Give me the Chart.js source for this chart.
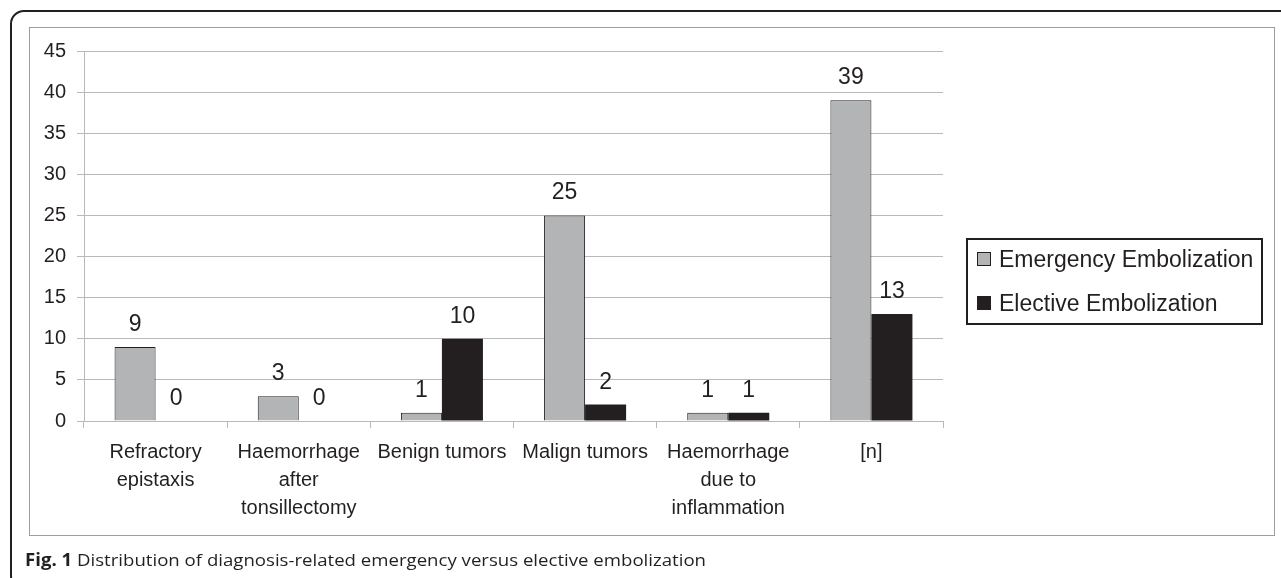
<!DOCTYPE html>
<html>
<head>
<meta charset="utf-8">
<script src="https://cdn.jsdelivr.net/npm/chart.js@4.4.1/dist/chart.umd.min.js"></script>
<style>
  html, body { margin: 0; padding: 0; background: #ffffff; overflow: hidden; }
  body { width: 1281px; height: 578px; position: relative; }
  #outer { position: absolute; left: 10px; top: 10px; width: 1320px; height: 580px;
           border: 2px solid #231f20; border-radius: 14px 0 0 14px; box-sizing: border-box; }
  #inner { position: absolute; left: 29px; top: 27px; width: 1246px; height: 509px;
           border: 1px solid #9d9d9d; box-sizing: border-box; }
  #wrap { position: absolute; left: 0; top: 0; width: 1281px; height: 578px; }
  #legend { position: absolute; left: 966px; top: 238px; width: 297px; height: 87px;
            border: 2px solid #231f20; box-sizing: border-box; padding-top: 6px;
            font-family: "Liberation Sans", Arial, sans-serif; font-size: 23px; color: #231f20; }
  .row { position: relative; height: 26px; line-height: 26px; margin-bottom: 18px; white-space: nowrap; }
  .sw { position: absolute; left: 9px; top: 6px; width: 14px; height: 14px; box-sizing: border-box; }
  .lt { position: absolute; left: 31px; top: 0; }
  #caption { position: absolute; left: 25px; top: 548px; white-space: nowrap;
             font-family: "Open Sans", "Noto Sans", sans-serif; font-size: 17px; color: #231f20;
             transform-origin: 0 0; }
  #caption b { font-weight: 700; }
</style>
</head>
<body>
<div id="outer"></div>
<div id="inner"></div>
<div id="wrap"><canvas id="c" width="1281" height="578"></canvas></div>
<div id="legend"></div>
<div id="caption"><b>Fig. 1</b> Distribution of diagnosis-related emergency versus elective embolization</div>
<script>
const categories = [
  ["Refractory", "epistaxis"],
  ["Haemorrhage", "after", "tonsillectomy"],
  "Benign tumors",
  "Malign tumors",
  ["Haemorrhage", "due to", "inflammation"],
  "[n]"
];
const seriesNames = ["Emergency Embolization", "Elective Embolization"];
const emergency = [9, 3, 1, 25, 1, 39];
const elective = [0, 0, 10, 2, 1, 13];
const yTicks = [0, 5, 10, 15, 20, 25, 30, 35, 40, 45];

const INK = "#231f20";
const GRAY = "#b3b4b6";
const GRID = "#b9b9b9";
const FONT = "'Liberation Sans', Arial, sans-serif";

const valueLabels = {
  id: "valueLabels",
  afterDatasetsDraw(chart) {
    const ctx = chart.ctx;
    ctx.save();
    ctx.font = "23px " + FONT;
    ctx.fillStyle = INK;
    ctx.textAlign = "center";
    ctx.textBaseline = "alphabetic";
    chart.data.datasets.forEach((ds, di) => {
      const meta = chart.getDatasetMeta(di);
      meta.data.forEach((el, i) => {
        ctx.fillText(String(ds.data[i]), el.x, el.y - 16);
      });
    });
    ctx.restore();
  }
};

const chart = new Chart(document.getElementById("c"), {
  type: "bar",
  data: {
    labels: categories,
    datasets: [
      { label: seriesNames[0], data: emergency, backgroundColor: GRAY, borderColor: INK, borderWidth: 1,
        categoryPercentage: 0.573, barPercentage: 1.0 },
      { label: seriesNames[1], data: elective, backgroundColor: INK, borderColor: INK, borderWidth: 0,
        categoryPercentage: 0.573, barPercentage: 1.0 }
    ]
  },
  options: {
    responsive: false,
    animation: false,
    devicePixelRatio: 1,
    layout: { padding: { left: 30, top: 51, right: 338, bottom: 0 } },
    plugins: { legend: { display: false }, tooltip: { enabled: false } },
    scales: {
      x: {
        offset: true,
        grid: { display: true, drawOnChartArea: false, drawTicks: true, tickLength: 7, color: GRID, offset: true },
        border: { display: true, color: GRID, width: 1 },
        ticks: { font: { family: FONT, size: 20, lineHeight: 1.4 }, color: INK, padding: 10,
                 maxRotation: 0, minRotation: 0, autoSkip: false },
        afterFit(scale) { scale.height = 157; }
      },
      y: {
        min: 0, max: 45,
        afterBuildTicks(scale) { scale.ticks = yTicks.map(v => ({ value: v })); },
        grid: { color: GRID, tickLength: 7, drawTicks: true },
        border: { display: true, color: GRID, width: 1 },
        ticks: { font: { family: FONT, size: 20 }, color: INK, padding: 11 },
        afterFit(scale) { scale.width = 54; }
      }
    }
  },
  plugins: [valueLabels]
});

// legend built from datasets
const lg = document.getElementById("legend");
chart.data.datasets.forEach(ds => {
  const row = document.createElement("div");
  row.className = "row";
  const sw = document.createElement("span");
  sw.className = "sw";
  sw.style.background = ds.backgroundColor;
  sw.style.border = "1px solid " + ds.borderColor;
  const t = document.createElement("span");
  t.className = "lt";
  t.textContent = ds.label;
  row.appendChild(sw); row.appendChild(t);
  lg.appendChild(row);
});

// fit caption to reference width
const cap = document.getElementById("caption");
const w = cap.getBoundingClientRect().width;
cap.style.transform = "scaleX(" + (681 / w) + ")";
</script>
</body>
</html>
